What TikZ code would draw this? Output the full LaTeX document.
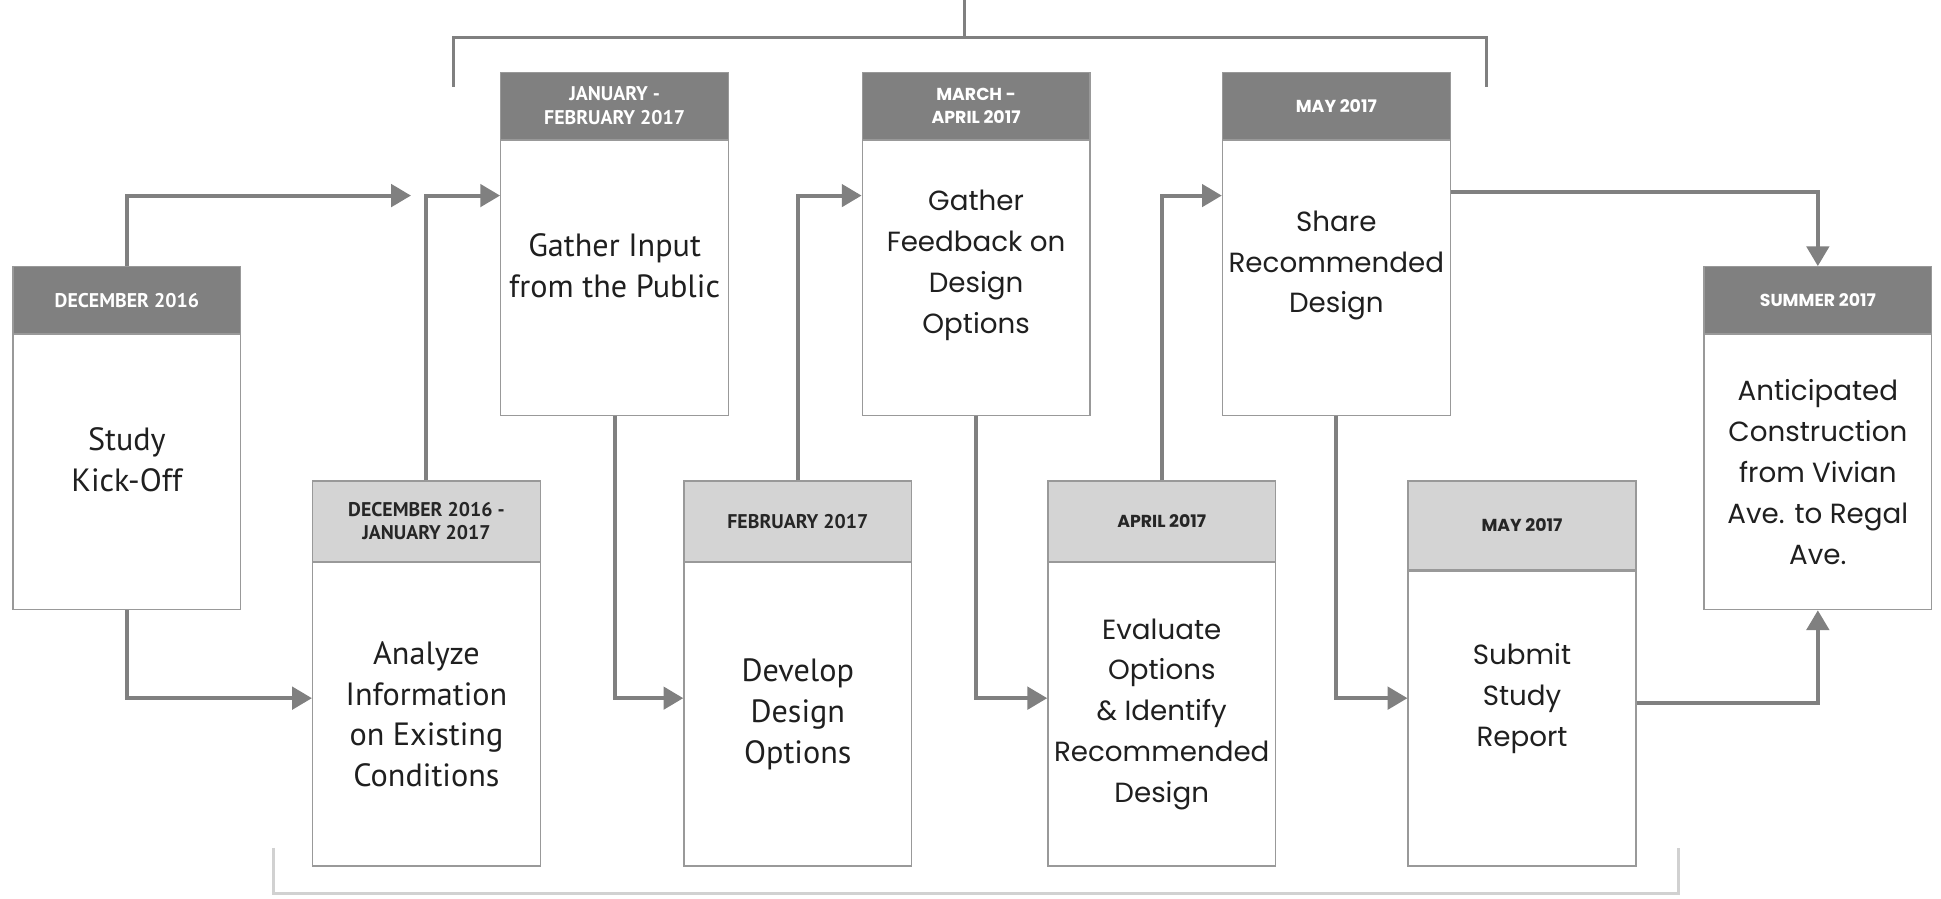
\documentclass[tikz,border=0pt]{standalone}
\usepackage{fontspec}
\usetikzlibrary{positioning,arrows.meta}
\newfontfamily\condfont{PT Sans}
\newfontfamily\widefont{Poppins}
\newcommand\condhd{\condfont\bfseries\fontsize{8}{9.5}\selectfont}
\newcommand\widehd{\widefont\bfseries\fontsize{7}{9.5}\selectfont}
\newcommand\condbody{\condfont\fontsize{13}{16.5}\selectfont}
\newcommand\widebody{\widefont\fontsize{11.2}{16.5}\selectfont}
\colorlet{hdrdark}{black!50}
\colorlet{hdrlight}{black!17}
\colorlet{linegray}{black!50}
\colorlet{framegray}{black!40}
\colorlet{bracketlight}{black!18}
\tikzset{
  hdr/.style={draw=framegray,line width=0.5pt,minimum width=92pt,inner sep=0pt,align=center,anchor=north west},
  darkhdr/.style={hdr,fill=hdrdark,text=white,minimum height=27pt},
  lighthdr/.style={hdr,fill=hdrlight,text=black!85,minimum height=32.5pt},
  body/.style={draw=framegray,line width=0.5pt,minimum width=92pt,minimum height=111pt,inner sep=0pt,below=0pt of #1},
  condtxt/.style={align=center,text=black!88,font=\condbody},
  widetxt/.style={align=center,text=black!88,font=\widebody},
  flow/.style={draw=linegray,line width=1.6pt,-{Triangle[length=8pt,width=9pt]}},
  bracket/.style={draw=linegray,line width=1.2pt}
}
\begin{document}
\begin{tikzpicture}[x=0.5pt,y=-0.5pt]
    \useasboundingbox (0,0) rectangle (1568,726);
    \coordinate(up) at (0,158);
    \coordinate(down) at (0,564);
    \coordinate(endA) at (332,158);

    \node[darkhdr,font=\condhd](hdrA) at (10,215) {DECEMBER 2016};
    \node[body=hdrA](bodyA) {};
    \node[condtxt](txtA) at ([yshift=5pt]bodyA.center) {Study\\Kick-Off};

    \node[lighthdr,font=\condhd](hdrB) at (252,388) {DECEMBER 2016 -\\JANUARY 2017};
    \node[body=hdrB,minimum height=122.5pt](bodyB) {};
    \node[condtxt](txtB) at (bodyB.center) {Analyze\\Information\\on Existing\\Conditions};

    \node[darkhdr,font=\condhd](hdrC) at (404,58) {JANUARY -\\FEBRUARY 2017};
    \node[body=hdrC](bodyC) {};
    \node[condtxt](txtC) at ([yshift=5pt]bodyC.center) {Gather Input\\from the Public};

    \node[lighthdr,font=\condhd](hdrD) at (552,388) {FEBRUARY 2017};
    \node[body=hdrD,minimum height=122.5pt](bodyD) {};
    \node[condtxt](txtD) at (bodyD.center) {Develop\\Design\\Options};

    \node[darkhdr,font=\widehd](hdrE) at (696,58) {MARCH -\\APRIL 2017};
    \node[body=hdrE](bodyE) {};
    \node[widetxt](txtE) at ([yshift=5pt]bodyE.center) {Gather\\Feedback on\\Design\\Options};

    \node[lighthdr,font=\widehd](hdrF) at (846,388) {APRIL 2017};
    \node[body=hdrF,minimum height=122.5pt](bodyF) {};
    \node[widetxt](txtF) at (bodyF.center) {Evaluate\\Options\\\& Identify\\Recommended\\Design};

    \node[darkhdr,font=\widehd](hdrG) at (987,58) {MAY 2017};
    \node[body=hdrG](bodyG) {};
    \node[widetxt](txtG) at ([yshift=5pt]bodyG.center) {Share\\Recommended\\Design};

    \node[lighthdr,font=\widehd,minimum height=36pt](hdrH) at (1137,388) {MAY 2017};
    \node[body=hdrH,minimum height=119pt](bodyH) {};
    \node[widetxt](txtH) at ([yshift=8pt]bodyH.center) {Submit\\Study\\Report};

    \node[darkhdr,font=\widehd](hdrI) at (1376,215) {SUMMER 2017};
    \node[body=hdrI](bodyI) {};
    \node[widetxt](txtI) at (bodyI.center) {Anticipated\\Construction\\from Vivian\\Ave. to Regal\\Ave.};

    \draw[flow](hdrA.north) |- (endA);
    \draw[flow](hdrB.north) |- (bodyC.west |- up);
    \draw[flow](bodyA.south) |- (bodyB.west |- down);
    \draw[flow](bodyC.south) |- (bodyD.west |- down);
    \draw[flow](hdrD.north) |- (bodyE.west |- up);
    \draw[flow](bodyE.south) |- (bodyF.west |- down);
    \draw[flow](hdrF.north) |- (bodyG.west |- up);
    \draw[flow](bodyG.south) |- (bodyH.west |- down);
    \draw[flow]([yshift=1.5pt]bodyG.east |- up) -| (hdrI.north);
    \draw[flow]([yshift=-2pt]bodyH.east |- down) -| (bodyI.south);

    \draw[bracket](366,70) -- (366,30) -- (1201,30) -- (1201,70);
    \draw[bracket](779,0) -- (779,30);
    \draw[bracket,draw=bracketlight](221,685) -- (221,722) -- (1356,722) -- (1356,685);
\end{tikzpicture}
\end{document}
